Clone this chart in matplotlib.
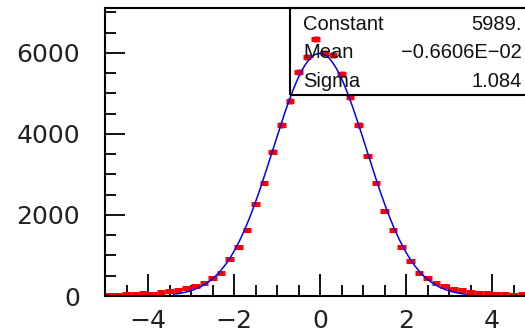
import matplotlib
matplotlib.use("Agg")
import matplotlib.pyplot as plt
import numpy as np
from matplotlib.patches import Rectangle
from matplotlib.ticker import MultipleLocator

# Histogram: 50 bins of width 0.2 between -5 and 5
bin_centers = np.round(np.arange(-4.9, 5.0, 0.2), 1)
bin_counts = [
    25, 25, 50, 50, 75, 50, 100, 125, 150, 198,
    247, 321, 445, 568, 914, 1211, 1631, 2272, 2791, 3560,
    4224, 4817, 5537, 5903, 6348, 6002, 5953, 5483, 4915, 4224,
    3458, 2791, 2100, 1631, 1211, 865, 568, 445, 321, 247,
    173, 148, 100, 75, 75, 50, 50, 25, 50, 25,
]

# Gaussian fit result
fit_constant = 5989.
fit_mean = -0.6606e-02
fit_sigma = 1.084
fit_range = (-3.4, 3.4)

stat_names = ["Constant", "Mean", "Sigma"]
stat_values = ["5989.", "\u22120.6606E\u221202", "1.084"]

W, H = 525, 336
fig = plt.figure(figsize=(W / 100, H / 100), dpi=100)
ax = fig.add_axes([105 / W, 40 / H, 430 / W, 288 / H])

counts = np.array(bin_counts, dtype=float)
ax.errorbar(bin_centers, counts, xerr=0.1, yerr=np.sqrt(counts), fmt="none",
            ecolor="red", elinewidth=3.6, capsize=0, zorder=2)

xf = np.linspace(fit_range[0], fit_range[1], 400)
yf = fit_constant * np.exp(-0.5 * ((xf - fit_mean) / fit_sigma) ** 2)
ax.plot(xf, yf, color="blue", lw=1.1, zorder=3)

ax.set_xlim(-5, 5)
ax.set_ylim(0, 7110)
ax.set_xticks([-4, -2, 0, 2, 4])
ax.set_yticks([0, 2000, 4000, 6000])
ax.xaxis.set_minor_locator(MultipleLocator(0.5))
ax.yaxis.set_minor_locator(MultipleLocator(500))

ax.tick_params(axis="x", which="major", direction="in", length=15.8, width=1.3,
               labelsize=18, pad=9.5)
ax.tick_params(axis="x", which="minor", direction="in", length=7.9, width=1.3)
ax.tick_params(axis="y", which="major", direction="in", length=14.4, width=1.3,
               labelsize=18, pad=18)
ax.tick_params(axis="y", which="minor", direction="in", length=7.9, width=1.3)
for lab in ax.get_xticklabels() + ax.get_yticklabels():
    lab.set_color("#222222")
for sp in ax.spines.values():
    sp.set_linewidth(1.5)

# Fit statistics box in the top right corner
box = Rectangle((290 / W, 1 - 95 / H), 260 / W, 87 / H, transform=fig.transFigure,
                fill=False, edgecolor="black", lw=1.5, clip_on=False, zorder=5)
fig.patches.append(box)
for i, (name, val) in enumerate(zip(stat_names, stat_values)):
    yb = 1 - (30 + 28.5 * i) / H
    fig.text(303 / W, yb, name, fontsize=14.5, family="Liberation Sans",
             ha="left", va="baseline", color="#111111")
    fig.text(522 / W, yb, val, fontsize=14.5, family="Liberation Sans",
             ha="right", va="baseline", color="#111111")

fig.savefig("out.png", dpi=100)
